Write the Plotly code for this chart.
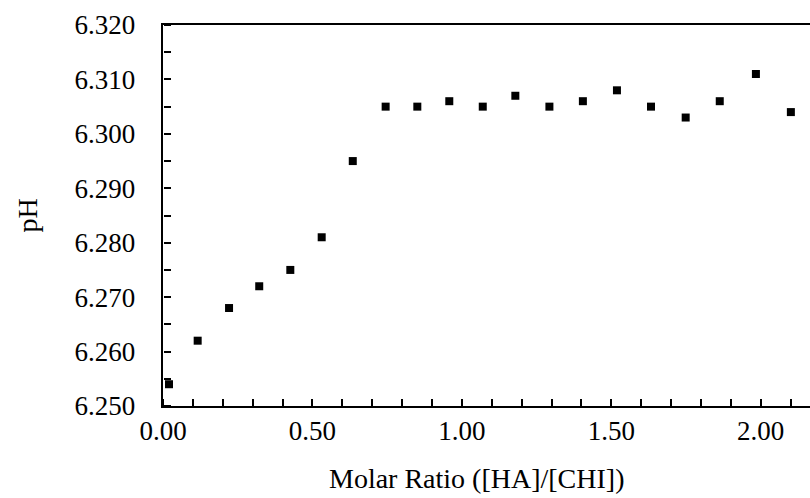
import plotly.graph_objects as go

molar_ratio = [0.02, 0.116, 0.221, 0.322, 0.426, 0.531, 0.635, 0.745, 0.851, 0.958,
               1.070, 1.179, 1.293, 1.405, 1.519, 1.633, 1.749, 1.863, 1.984, 2.101]
ph_values = [6.254, 6.262, 6.268, 6.272, 6.275, 6.281, 6.295, 6.305, 6.305, 6.306,
             6.305, 6.307, 6.305, 6.306, 6.308, 6.305, 6.303, 6.306, 6.311, 6.304]

x_tick_labels = ["0.00", "0.50", "1.00", "1.50", "2.00"]
y_tick_labels = ["6.250", "6.260", "6.270", "6.280", "6.290", "6.300", "6.310", "6.320"]

x_title = "Molar Ratio ([HA]/[CHI])"
y_title = "pH"

FONT = "Liberation Serif, Times New Roman, serif"
PAD = "\u00a0" * 3
X_RANGE = [0, 2.165]
Y_RANGE = [6.250, 6.320]

# tick positions: every 0.1 on x (label every 0.5), every 0.005 on y (label every 0.010)
x_tickvals = [round(i * 0.1, 2) for i in range(22)]
y_tickvals = [round(6.25 + i * 0.005, 3) for i in range(15)]
y_label_text = [lbl + PAD for lbl in y_tick_labels]
x_label_vals = [float(s) for s in x_tick_labels]
y_label_vals = [float(s) for s in y_tick_labels]

fig = go.Figure()
fig.add_trace(go.Scatter(
    x=molar_ratio, y=ph_values, mode="markers",
    marker=dict(symbol="square", size=8, color="black"),
    showlegend=False,
))
# invisible companion trace so the tick-only overlay axes exist
fig.add_trace(go.Scatter(
    x=molar_ratio, y=ph_values, mode="markers", xaxis="x2", yaxis="y2",
    marker=dict(size=1, opacity=0), showlegend=False, hoverinfo="skip",
))

tick_style = dict(ticks="outside", ticklen=7, tickwidth=2, tickcolor="black",
                  showticklabels=False, showline=False, showgrid=False, zeroline=False)

fig.update_layout(
    template="none",
    width=810, height=498,
    margin=dict(l=163, r=0, t=25, b=92),
    paper_bgcolor="white", plot_bgcolor="white",
    font=dict(family=FONT, size=27, color="black"),
    xaxis=dict(
        range=X_RANGE, tickmode="array", tickvals=x_label_vals, ticktext=x_tick_labels,
        ticks="", showline=True, linecolor="black", linewidth=2, mirror=True,
        showgrid=False, zeroline=False,
    ),
    yaxis=dict(
        range=Y_RANGE, tickmode="array", tickvals=y_label_vals, ticktext=y_label_text,
        ticks="", showline=True, linecolor="black", linewidth=2, mirror=False,
        showgrid=False, zeroline=False,
    ),
    xaxis2=dict(range=X_RANGE, overlaying="x", side="top", anchor="free", position=0,
                tickmode="array", tickvals=x_tickvals, **tick_style),
    yaxis2=dict(range=Y_RANGE, overlaying="y", side="right", anchor="free", position=0,
                tickmode="array", tickvals=y_tickvals, **tick_style),
    annotations=[
        dict(text=x_title, xref="paper", yref="paper",
             x=(476 - 163) / 647, y=-(478 - 405.7) / 380.7,
             xanchor="center", yanchor="middle", showarrow=False,
             font=dict(family=FONT, size=28, color="black")),
        dict(text=y_title, xref="paper", yref="paper",
             x=(27 - 163) / 647, y=0.5, textangle=-90,
             xanchor="center", yanchor="middle", showarrow=False,
             font=dict(family=FONT, size=28, color="black")),
    ],
)

fig.write_html("out.html", config={"displayModeBar": False},
               post_script="document.body.style.margin='0';")
